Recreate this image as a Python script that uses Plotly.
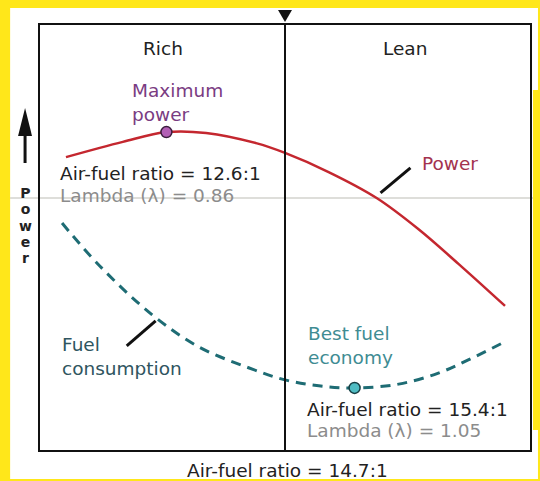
import plotly.graph_objects as go

# Curves (relative units: x 0-100 across the box, y 0-100 bottom to top)
power_x = [5.3, 16.9, 25.8, 33.9, 44.1, 50.0, 58.9, 68.7, 77.2, 85.4, 94.9]
power_y = [68.9, 72.5, 74.8, 74.6, 72.2, 69.9, 65.4, 59.3, 52.0, 43.8, 33.9]

fuel_x = [4.5, 12.2, 22.9, 32.5, 42.7, 50.0, 56.9, 64.2, 73.2, 81.3, 87.4, 95.1]
fuel_y = [53.4, 43.3, 31.8, 24.2, 19.3, 16.5, 15.1, 14.6, 15.5, 18.1, 21.2, 25.6]

max_power_pt = (25.8, 74.8)
best_econ_pt = (64.2, 14.6)
stoich_x = 50.0

region_labels = ["Rich", "Lean"]
region_x = [25.1, 74.4]

W, H = 540, 481
ML, MR, MT, MB = 40, 8, 25, 31
PW, PH = W - ML - MR, H - MT - MB

def px(x):
    return (x - ML) / PW

def py(y):
    return (H - MB - y) / PH

FONT = "DejaVu Sans"
FS = 18.5
RED = "#C4272F"
TEAL = "#1E6C74"
PURPLE = "#7A3C82"
TEALTXT = "#3F8C93"
GRAY = "#8C8C8C"
BLACK = "#222222"

fig = go.Figure()

fig.add_trace(go.Scatter(x=power_x, y=power_y, mode="lines", line=dict(color=RED, width=2.5, shape="spline"),
                         hoverinfo="skip", showlegend=False))
fig.add_trace(go.Scatter(x=fuel_x, y=fuel_y, mode="lines",
                         line=dict(color=TEAL, width=3, shape="spline", dash="10px,7px"),
                         hoverinfo="skip", showlegend=False))
fig.add_trace(go.Scatter(x=[max_power_pt[0]], y=[max_power_pt[1]], mode="markers",
                         marker=dict(size=11, color="#B25FB5", line=dict(color="#3A1E3E", width=1.5)),
                         hoverinfo="skip", showlegend=False))
fig.add_trace(go.Scatter(x=[best_econ_pt[0]], y=[best_econ_pt[1]], mode="markers",
                         marker=dict(size=11, color="#4FBCC3", line=dict(color="#173F44", width=1.5)),
                         hoverinfo="skip", showlegend=False))

shapes = []
# yellow page with white card
shapes.append(dict(type="rect", xref="paper", yref="paper", x0=px(10), x1=px(540), y0=py(479), y1=py(8),
                   fillcolor="white", line=dict(width=0), layer="below"))
shapes.append(dict(type="rect", xref="paper", yref="paper", x0=px(535), x1=px(541), y0=py(430), y1=py(90),
                   fillcolor="#FFE71A", line=dict(width=0), layer="below"))
# fold line
shapes.append(dict(type="line", xref="paper", yref="paper", x0=px(10), x1=px(535), y0=py(198), y1=py(198),
                   line=dict(color="#BDBDB5", width=1), layer="below"))
# centre line
shapes.append(dict(type="line", xref="x", yref="paper", x0=stoich_x, x1=stoich_x, y0=0, y1=1,
                   line=dict(color="#111111", width=2)))
# triangle marker above centre line
shapes.append(dict(type="path", xref="paper", yref="paper",
                   path=f"M {px(279)} {py(10)} L {px(293)} {py(10)} L {px(286)} {py(22)} Z",
                   fillcolor="#111111", line=dict(width=0)))
# leader lines
shapes.append(dict(type="line", xref="x", yref="y", x0=69.5, y0=60.5, x1=75.6, y1=66.4,
                   line=dict(color="#111111", width=3)))
shapes.append(dict(type="line", xref="x", yref="y", x0=17.7, y0=24.5, x1=23.6, y1=30.4,
                   line=dict(color="#111111", width=3)))
# power arrow
shapes.append(dict(type="line", xref="paper", yref="paper", x0=px(25), x1=px(25), y0=py(163), y1=py(130),
                   line=dict(color="#111111", width=3)))
shapes.append(dict(type="path", xref="paper", yref="paper",
                   path=f"M {px(18)} {py(136)} L {px(32)} {py(136)} L {px(25)} {py(108)} Z",
                   fillcolor="#111111", line=dict(width=0)))

ann = []
for lbl, xv in zip(region_labels, region_x):
    ann.append(dict(x=xv, y=94.5, xref="x", yref="y", text=lbl, showarrow=False, xanchor="center",
                    font=dict(family=FONT, size=FS, color=BLACK)))

ann.append(dict(x=18.4, y=81.8, xref="x", yref="y", text="Maximum<br>power", showarrow=False, xanchor="left",
                align="left", font=dict(family=FONT, size=FS, color=PURPLE)))
ann.append(dict(x=3.7, y=65.0, xref="x", yref="y", text="Air-fuel ratio = 12.6:1", showarrow=False,
                xanchor="left", font=dict(family=FONT, size=FS, color=BLACK)))
ann.append(dict(x=3.7, y=60.0, xref="x", yref="y", text="Lambda (λ) = 0.86", showarrow=False,
                xanchor="left", font=dict(family=FONT, size=FS, color=GRAY)))
ann.append(dict(x=77.6, y=67.5, xref="x", yref="y", text="Power", showarrow=False,
                xanchor="left", font=dict(family=FONT, size=FS, color="#A3324E")))
ann.append(dict(x=4.1, y=22.1, xref="x", yref="y", text="Fuel<br>consumption", showarrow=False,
                xanchor="left", align="left", font=dict(family=FONT, size=FS, color="#2F5560")))
ann.append(dict(x=54.2, y=24.7, xref="x", yref="y", text="Best fuel<br>economy", showarrow=False,
                xanchor="left", align="left", font=dict(family=FONT, size=FS, color=TEALTXT)))
ann.append(dict(x=54.1, y=9.6, xref="x", yref="y", text="Air-fuel ratio = 15.4:1", showarrow=False,
                xanchor="left", font=dict(family=FONT, size=FS, color=BLACK)))
ann.append(dict(x=54.1, y=4.5, xref="x", yref="y", text="Lambda (λ) = 1.05", showarrow=False,
                xanchor="left", font=dict(family=FONT, size=FS, color=GRAY)))
ann.append(dict(x=px(289), y=py(470), xref="paper", yref="paper", text="Air-fuel ratio = 14.7:1",
                showarrow=False, xanchor="center", yanchor="middle",
                font=dict(family=FONT, size=FS, color=BLACK)))

# vertical axis word, one letter per line
axis_word = "Power"
ann.append(dict(x=px(25), y=py(225), xref="paper", yref="paper",
                text="<br>".join(f'<span style="font-size:14px"><b>{c}</b></span>' for c in axis_word),
                showarrow=False, xanchor="center", yanchor="middle", align="center",
                font=dict(family="DejaVu Sans", size=12.5, color=BLACK)))

fig.update_layout(
    width=W, height=H,
    margin=dict(l=ML, r=MR, t=MT, b=MB),
    paper_bgcolor="#FFE71A",
    plot_bgcolor="white",
    shapes=shapes,
    annotations=ann,
    xaxis=dict(range=[0, 100], showgrid=False, zeroline=False, showticklabels=False, ticks="",
               showline=True, mirror=True, linecolor="#111111", linewidth=2, fixedrange=True),
    yaxis=dict(range=[0, 100], showgrid=False, zeroline=False, showticklabels=False, ticks="",
               showline=True, mirror=True, linecolor="#111111", linewidth=2, fixedrange=True),
)

fig.write_html("out.html", config={"displayModeBar": False},
               post_script="document.body.style.margin='0px';document.body.style.overflow='hidden';")
